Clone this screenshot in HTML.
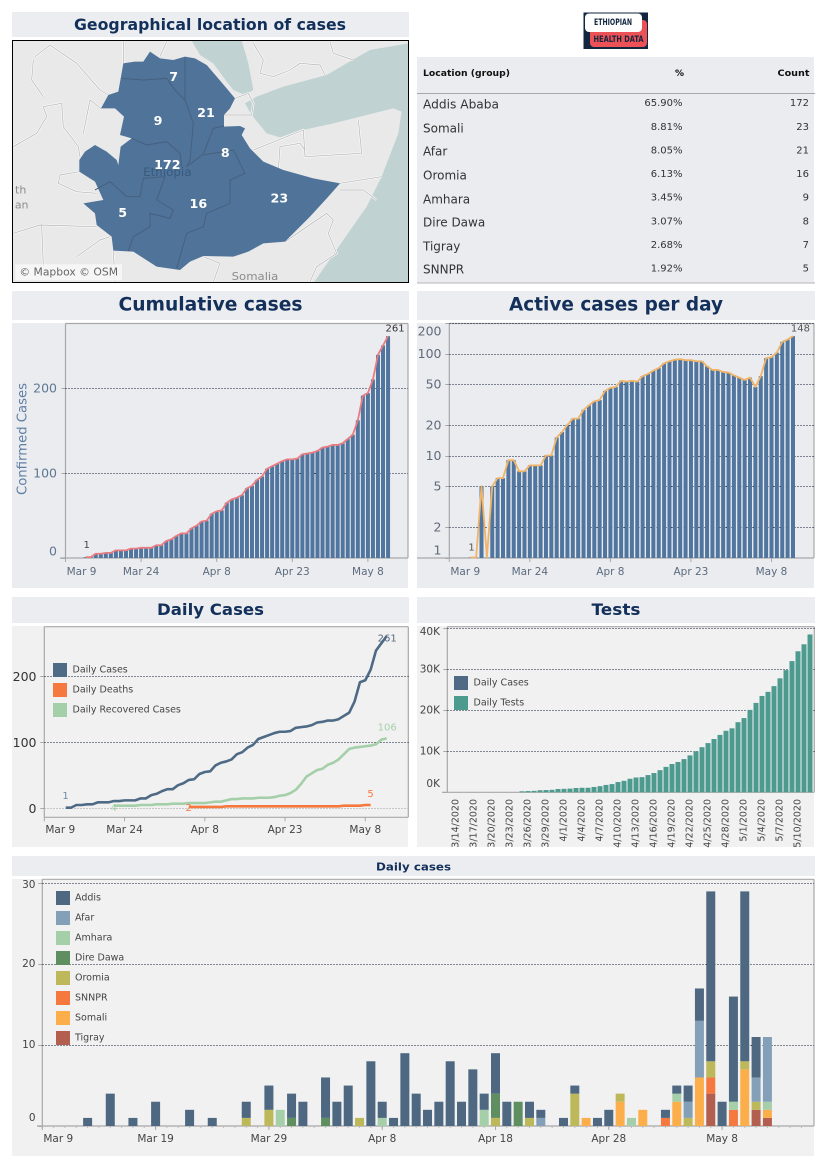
<!DOCTYPE html>
<html lang="en">
<head>
<meta charset="utf-8">
<title>Ethiopian Health Data dashboard</title>
<style>
html,body{margin:0;padding:0;background:#fff;width:827px;height:1169px;overflow:hidden}
svg{display:block}
text{font-family:"DejaVu Sans","Liberation Sans",sans-serif}
.title{font-weight:700;fill:#12305a;text-anchor:middle;dominant-baseline:central}
.cell{dominant-baseline:central;fill:#333}
.map-num{font-weight:700;fill:#fff;font-size:38px;text-anchor:middle;dominant-baseline:central}
.dot{fill:none;stroke:#0f1a33;stroke-width:1;stroke-dasharray:1 2;shape-rendering:crispEdges}
.dot-light{fill:none;stroke:#9a9a9a;stroke-width:1;stroke-dasharray:1 2;shape-rendering:crispEdges}
</style>
</head>
<body>
<svg id="page" xmlns="http://www.w3.org/2000/svg" width="827" height="1169" viewBox="0 0 827 1169">
  <defs><clipPath id="mapClip"><rect x="12.5" y="40.5" width="396" height="242"/></clipPath></defs>

  <rect x="12" y="12" width="397" height="25" fill="#ecedf0"/>
  <text class="title" x="210" y="24.5" font-size="16" textLength="272" lengthAdjust="spacingAndGlyphs">Geographical location of cases</text>

  <g clip-path="url(#mapClip)">
    <rect x="12" y="40" width="398" height="244" fill="#e9e9e9"/>
    <g transform="scale(0.33333)">
      <polygon fill="#c0d2d2" points="575,122 725,122 745,190 760,270 735,285 700,270 680,245 640,190 600,165"/>
      <polygon fill="#c0d2d2" points="770,290 850,260 980,225 1040,190 1110,150 1225,130 1225,850 940,850 1030,720 1100,620 1145,530 1195,400 1205,335 1180,325 1100,345 1000,370 900,392 840,412 800,400 755,345 735,310"/>
      <g fill="none" stroke-linejoin="round">
        <path stroke="#f6f6f6" stroke-width="7" d="M370 122V190M230 190L300 270 325 285M105 170L150 135 230 190M40 440L110 400 140 350 130 320 185 310 190 380 235 440 240 470M250 400L270 300 303 325M40 700L120 675 290 680M125 675L130 800M340 755L345 845M610 770L660 790 640 845M1020 550L1145 530M760 450L910 390 915 470 1085 460 1075 360M840 440L900 430 915 450M835 510L840 440M1020 570L1090 570 1130 600M855 725L980 640 1000 660 985 700 1010 760 950 800 930 845M705 295L745 280 760 310 755 345 725 345 672 345M760 130L790 180 780 220 820 230 870 210 900 190 960 195 975 225M990 125L1000 160 1060 180M238 515L180 525 175 550 230 575 290 580M230 770L300 720 330 710M100 180L95 240 130 290M480 170L500 125"/>
        <path stroke="#b4b4b4" stroke-width="2" d="M370 122V190M230 190L300 270 325 285M105 170L150 135 230 190M40 440L110 400 140 350 130 320 185 310 190 380 235 440 240 470M250 400L270 300 303 325M40 700L120 675 290 680M125 675L130 800M340 755L345 845M610 770L660 790 640 845M1020 550L1145 530M760 450L910 390 915 470 1085 460 1075 360M840 440L900 430 915 450M835 510L840 440M1020 570L1090 570 1130 600M855 725L980 640 1000 660 985 700 1010 760 950 800 930 845M705 295L745 280 760 310 755 345 725 345 672 345M760 130L790 180 780 220 820 230 870 210 900 190 960 195 975 225M990 125L1000 160 1060 180M238 515L180 525 175 550 230 575 290 580M230 770L300 720 330 710M100 180L95 240 130 290M480 170L500 125"/>
      </g>
      <polygon fill="#4f7399" points="370,190 405,185 430,185 450,155 480,175 520,180 555,170 585,175 620,195 650,230 680,265 705,295 690,325 672,345 672,380 720,378 735,385 725,405 750,445 790,485 850,510 940,535 1020,550 985,590 930,650 855,725 790,730 745,755 700,770 610,768 570,785 540,810 470,800 400,755 340,752 335,710 290,675 285,640 250,610 310,600 285,545 238,515 238,480 255,455 285,435 320,455 350,480 355,495 362,440 395,415 360,405 372,350 345,325 303,325 325,285 355,275"/>
      <path fill="none" stroke="#47607e" stroke-width="3" stroke-linejoin="round" d="M365 235L430 240 500 235 525 270 555 300M555 175V300L580 370 570 480 560 500M560 500L610 462 640 385 672 378M610 465L700 450 735 520 690 540 690 610 620 640 610 680 560 700 530 805M395 415L440 435 500 425 540 460 545 500M285 570L330 545 380 590 420 590 430 535 495 530 470 600 520 630 510 655 450 640 450 680 400 710 385 752"/>
      <text x="502" y="516" font-size="35" fill="#385a7d" text-anchor="middle" dominant-baseline="central" textLength="145" lengthAdjust="spacingAndGlyphs">Ethiopia</text>
      <text x="765" y="830" font-size="33" fill="#8c8c8c" text-anchor="middle" dominant-baseline="central" textLength="140" lengthAdjust="spacingAndGlyphs">Somalia</text>
      <text x="62" y="570" font-size="33" fill="#8c8c8c" text-anchor="middle" dominant-baseline="central">th</text>
      <text x="65" y="615" font-size="33" fill="#8c8c8c" text-anchor="middle" dominant-baseline="central">an</text>
      <text class="map-num" x="521" y="230">7</text>
      <text class="map-num" x="618" y="338">21</text>
      <text class="map-num" x="474" y="362">9</text>
      <text class="map-num" x="676" y="458">8</text>
      <text class="map-num" x="502" y="494">172</text>
      <text class="map-num" x="595" y="610">16</text>
      <text class="map-num" x="838" y="594">23</text>
      <text class="map-num" x="368" y="637">5</text>
      <rect x="46" y="793" width="320" height="48" fill="#fff" opacity="0.6"/>
      <text x="58" y="816" font-size="32" fill="#666" dominant-baseline="central" textLength="296" lengthAdjust="spacingAndGlyphs">© Mapbox © OSM</text>
    </g>
  </g>
  <rect x="12.5" y="40.5" width="396" height="242" fill="none" stroke="#000" stroke-width="1"/>

  <g>
    <rect x="583.5" y="12.5" width="64.5" height="36.5" fill="#12263f"/>
    <rect x="590" y="20" width="57" height="27" rx="4" fill="#ec5157"/>
    <rect x="585" y="13.5" width="57" height="18.5" rx="4" fill="#fff"/>
    <text x="613" y="23" font-size="9" font-weight="700" fill="#12263f" text-anchor="middle" dominant-baseline="central" textLength="38" lengthAdjust="spacingAndGlyphs">ETHIOPIAN</text>
    <text x="618.5" y="40" font-size="9" font-weight="700" fill="#12263f" text-anchor="middle" dominant-baseline="central" textLength="50" lengthAdjust="spacingAndGlyphs">HEALTH DATA</text>
  </g>

  <g>
    <rect x="417" y="57" width="397" height="226" fill="#ebecf0"/>
    <line x1="417" x2="815" y1="93.5" y2="93.5" stroke="#a8a8a8"/>
    <line x1="417" x2="815" y1="283" y2="283" stroke="#b5b5b5"/>
    <text class="cell" style="fill:#111" x="423" y="74" font-size="9" font-weight="700" textLength="87" lengthAdjust="spacingAndGlyphs">Location (group)</text>
    <text class="cell" style="fill:#111" x="684" y="74" font-size="9" font-weight="700" text-anchor="end">%</text>
    <text class="cell" style="fill:#111" x="809.5" y="74" font-size="9" font-weight="700" text-anchor="end" textLength="32" lengthAdjust="spacingAndGlyphs">Count</text>

    <text class="cell" x="423" y="104.5" font-size="12" textLength="76" lengthAdjust="spacingAndGlyphs">Addis Ababa</text>
    <text class="cell" x="682.5" y="103.5" font-size="10" text-anchor="end">65.90%</text>
    <text class="cell" x="809" y="103.5" font-size="10" text-anchor="end">172</text>

    <text class="cell" x="423" y="128.5" font-size="12">Somali</text>
    <text class="cell" x="682.5" y="127.5" font-size="10" text-anchor="end">8.81%</text>
    <text class="cell" x="809" y="127.5" font-size="10" text-anchor="end">23</text>

    <text class="cell" x="423" y="151.5" font-size="12">Afar</text>
    <text class="cell" x="682.5" y="151" font-size="10" text-anchor="end">8.05%</text>
    <text class="cell" x="809" y="151" font-size="10" text-anchor="end">21</text>

    <text class="cell" x="423" y="175.5" font-size="12">Oromia</text>
    <text class="cell" x="682.5" y="174.5" font-size="10" text-anchor="end">6.13%</text>
    <text class="cell" x="809" y="174.5" font-size="10" text-anchor="end">16</text>

    <text class="cell" x="423" y="199.5" font-size="12">Amhara</text>
    <text class="cell" x="682.5" y="198" font-size="10" text-anchor="end">3.45%</text>
    <text class="cell" x="809" y="198" font-size="10" text-anchor="end">9</text>

    <text class="cell" x="423" y="222.5" font-size="12">Dire Dawa</text>
    <text class="cell" x="682.5" y="222" font-size="10" text-anchor="end">3.07%</text>
    <text class="cell" x="809" y="222" font-size="10" text-anchor="end">8</text>

    <text class="cell" x="423" y="246.5" font-size="12">Tigray</text>
    <text class="cell" x="682.5" y="245.5" font-size="10" text-anchor="end">2.68%</text>
    <text class="cell" x="809" y="245.5" font-size="10" text-anchor="end">7</text>

    <text class="cell" x="423" y="269.5" font-size="12">SNNPR</text>
    <text class="cell" x="682.5" y="269" font-size="10" text-anchor="end">1.92%</text>
    <text class="cell" x="809" y="269" font-size="10" text-anchor="end">5</text>
  </g>

  <rect x="12" y="291" width="397" height="29" fill="#ecedf0"/>
  <text class="title" x="210.5" y="305" font-size="18.5" textLength="184" lengthAdjust="spacingAndGlyphs">Cumulative cases</text>
  <rect x="12" y="323" width="396" height="265" fill="#ebecf0"/>
  <g id="cumChart"></g>

  <rect x="417" y="291" width="398" height="29" fill="#ecedf0"/>
  <text class="title" x="616" y="305" font-size="18.5" textLength="214" lengthAdjust="spacingAndGlyphs">Active cases per day</text>
  <rect x="417" y="323" width="397" height="265" fill="#ebecf0"/>
  <g id="activeChart"></g>

  <rect x="12" y="597" width="397" height="26" fill="#ecedf0"/>
  <text class="title" x="210.5" y="609.5" font-size="16" textLength="107" lengthAdjust="spacingAndGlyphs">Daily Cases</text>
  <rect x="12" y="626" width="396" height="221" fill="#f1f1f2"/>
  <g id="dailyChart"></g>

  <rect x="417" y="597" width="398" height="26" fill="#ecedf0"/>
  <text class="title" x="616" y="609.5" font-size="16" textLength="49" lengthAdjust="spacingAndGlyphs">Tests</text>
  <rect x="417" y="626" width="397" height="221" fill="#f1f1f2"/>
  <g id="testsChart"></g>

  <rect x="12" y="856" width="803" height="20" fill="#ecedf0"/>
  <text class="title" x="413.5" y="867" font-size="11" textLength="75" lengthAdjust="spacingAndGlyphs">Daily cases</text>
  <rect x="12" y="879" width="802" height="277" fill="#f1f1f2"/>
  <g id="regionChart"></g>
</svg>

<script>
/* ---------- shared categories ---------- */
const dayLabels = [
  'Mar 13','Mar 14','Mar 15','Mar 16','Mar 17','Mar 18','Mar 19','Mar 20','Mar 21','Mar 22',
  'Mar 23','Mar 24','Mar 25','Mar 26','Mar 27','Mar 28','Mar 29','Mar 30','Mar 31','Apr 1',
  'Apr 2','Apr 3','Apr 4','Apr 5','Apr 6','Apr 7','Apr 8','Apr 9','Apr 10','Apr 11',
  'Apr 12','Apr 13','Apr 14','Apr 15','Apr 16','Apr 17','Apr 18','Apr 19','Apr 20','Apr 21',
  'Apr 22','Apr 23','Apr 24','Apr 25','Apr 26','Apr 27','Apr 28','Apr 29','Apr 30','May 1',
  'May 2','May 3','May 4','May 5','May 6','May 7','May 8','May 9','May 10','May 11',
  'May 12'];
const xTickLabels15 = ['Mar 9','Mar 24','Apr 8','Apr 23','May 8'];
const xTickLabels10 = ['Mar 9','Mar 19','Mar 29','Apr 8','Apr 18','Apr 28','May 8'];

/* ---------- cumulative ---------- */
const cumulativeCases = [
  1,1,5,5,6,6,9,9,9,11,
  11,12,12,12,15,15,20,22,26,29,
  29,35,38,43,44,52,55,56,65,69,
  71,74,82,85,92,96,105,108,111,114,
  116,116,117,122,123,124,126,130,131,133,
  133,135,140,145,162,191,194,210,239,250,
  261];
const cumulativeTicks = [0,100,200];

/* ---------- active (log axis) ---------- */
const activeCases = [
  1,1,5,1,5,6,6,9,9,7,
  7,8,8,8,10,10,15,17,20,23,
  23,28,31,34,35,43,46,47,54,53,
  54,53,60,63,68,72,80,84,87,88,
  86,86,84,84,75,69,69,66,65,61,
  58,55,58,47,60,90,92,102,130,137,
  148];
const activeTicks = [1,2,5,10,20,50,100,200];

/* ---------- daily lines ---------- */
const recoveredCases = [
  null,null,null,null,null,null,null,null,null,4,
  4,4,4,4,5,5,5,6,6,6,
  7,7,7,8,8,8,8,9,10,10,
  12,14,14,15,15,15,16,16,16,17,
  19,20,23,28,37,48,53,58,60,66,
  69,74,82,90,92,93,94,95,97,104,
  106];
const deathCases = [
  null,null,null,null,null,null,null,null,null,null,
  null,null,null,null,null,null,null,null,null,null,
  null,null,null,2,2,2,2,2,2,2,
  3,3,3,3,3,3,3,3,3,3,
  3,3,3,3,3,3,3,3,3,3,
  3,3,4,4,4,4,5,5,null,null,
  null];
const dailyTicks = [0,100,200];
const dailyLegend = ['Daily Cases','Daily Deaths','Daily Recovered Cases'];

/* ---------- tests ---------- */
const testDates = [
  '3/14/2020','3/15/2020','3/16/2020','3/17/2020','3/18/2020','3/19/2020','3/20/2020','3/21/2020','3/22/2020','3/23/2020',
  '3/24/2020','3/25/2020','3/26/2020','3/27/2020','3/28/2020','3/29/2020','3/30/2020','3/31/2020','4/1/2020','4/2/2020',
  '4/3/2020','4/4/2020','4/5/2020','4/6/2020','4/7/2020','4/8/2020','4/9/2020','4/10/2020','4/11/2020','4/12/2020',
  '4/13/2020','4/14/2020','4/15/2020','4/16/2020','4/17/2020','4/18/2020','4/19/2020','4/20/2020','4/21/2020','4/22/2020',
  '4/23/2020','4/24/2020','4/25/2020','4/26/2020','4/27/2020','4/28/2020','4/29/2020','4/30/2020','5/1/2020','5/2/2020',
  '5/3/2020','5/4/2020','5/5/2020','5/6/2020','5/7/2020','5/8/2020','5/9/2020','5/10/2020','5/11/2020','5/12/2020'];
const testCounts = [
  0,0,0,0,0,0,0,0,0,0,
  0,250,300,350,500,550,600,800,850,900,
  1050,1100,1100,1300,1500,1800,2000,2500,2800,3300,
  3600,3700,4200,4700,5400,6200,6900,7400,8100,9000,
  10000,11000,12000,13000,14000,15000,15600,17100,18100,20100,
  21800,23500,24500,25900,27800,29800,32000,34400,36100,38500];
const testTicks = [0,10000,20000,30000,40000];
const testLegend = ['Daily Cases','Daily Tests'];

/* ---------- daily by region ---------- */
const addisCases = [
  1,0,4,0,1,0,3,0,0,2,
  0,1,0,0,2,0,3,0,3,3,
  0,5,3,5,0,8,2,1,9,4,
  2,3,8,3,7,2,5,3,0,2,
  1,0,1,1,0,1,2,0,0,0,
  0,1,1,2,4,21,3,13,21,5,
  0];
const afarCases = [
  0,0,0,0,0,0,0,0,0,0,
  0,0,0,0,0,0,0,0,0,0,
  0,0,0,0,0,0,0,0,0,0,
  0,0,0,0,0,0,0,0,0,0,
  1,0,0,0,0,0,0,0,0,0,
  0,0,0,2,7,0,0,0,0,3,
  8];
const amharaCases = [
  0,0,0,0,0,0,0,0,0,0,
  0,0,0,0,0,0,0,2,0,0,
  0,0,0,0,0,0,1,0,0,0,
  0,0,0,0,0,2,0,0,0,0,
  0,0,0,0,0,0,0,0,1,0,
  0,0,1,0,0,0,0,1,0,0,
  1];
const direDawaCases = [
  0,0,0,0,0,0,0,0,0,0,
  0,0,0,0,0,0,0,0,1,0,
  0,1,0,0,0,0,0,0,0,0,
  0,0,0,0,0,0,3,0,3,0,
  0,0,0,0,0,0,0,0,0,0,
  0,0,0,0,0,0,0,0,0,0,
  0];
const oromiaCases = [
  0,0,0,0,0,0,0,0,0,0,
  0,0,0,0,1,0,2,0,0,0,
  0,0,0,0,1,0,0,0,0,0,
  0,0,0,0,0,0,1,0,0,1,
  0,0,0,4,0,0,0,1,0,0,
  0,0,0,1,0,2,0,0,1,1,
  0];
const snnprCases = [
  0,0,0,0,0,0,0,0,0,0,
  0,0,0,0,0,0,0,0,0,0,
  0,0,0,0,0,0,0,0,0,0,
  0,0,0,0,0,0,0,0,0,0,
  0,0,0,0,0,0,0,0,0,0,
  0,1,0,0,0,2,0,2,0,0,
  0];
const somaliCases = [
  0,0,0,0,0,0,0,0,0,0,
  0,0,0,0,0,0,0,0,0,0,
  0,0,0,0,0,0,0,0,0,0,
  0,0,0,0,0,0,0,0,0,0,
  0,0,0,0,1,0,0,3,0,2,
  0,0,3,0,6,0,0,0,7,0,
  1];
const tigrayCases = [
  0,0,0,0,0,0,0,0,0,0,
  0,0,0,0,0,0,0,0,0,0,
  0,0,0,0,0,0,0,0,0,0,
  0,0,0,0,0,0,0,0,0,0,
  0,0,0,0,0,0,0,0,0,0,
  0,0,0,0,0,4,0,0,0,2,
  1];
const regionTicks = [0,10,20,30];
const regionLegend = ['Addis','Afar','Amhara','Dire Dawa','Oromia','SNNPR','Somali','Tigray'];

/* ---------- helpers ---------- */
const NS = 'http://www.w3.org/2000/svg';
const AXIS = '#a8a8a8';
function mk(tag, attrs, parent){
  const el = document.createElementNS(NS, tag);
  for (const k in attrs) el.setAttribute(k, attrs[k]);
  parent.appendChild(el);
  return el;
}
function txt(parent, x, y, str, size, fill, anchor){
  const el = mk('text', {x:x, y:y, 'font-size':size, fill:fill, 'text-anchor':anchor||'middle', 'dominant-baseline':'central'}, parent);
  el.textContent = str;
  return el;
}
function dayOffset(label){
  return Math.round((new Date(label + ' 2020 12:00') - new Date('Mar 9 2020 12:00')) / 864e5);
}
function linePath(values, xFn, yFn){
  let d = '';
  values.forEach(function(v, i){
    if (v === null) return;
    d += (d ? 'L' : 'M') + xFn(i).toFixed(2) + ' ' + yFn(v).toFixed(2);
  });
  return d;
}
function drawFrame(g, left, right, top, bottom, axisStart){
  const a = mk('line', {x1:left, x2:left, y1:top, y2:bottom, stroke:AXIS, 'stroke-width':1.2}, g);
  
  
  const b = mk('line', {x1:left, x2:right, y1:top, y2:top, stroke:AXIS, 'stroke-width':1.2}, g);
  
  
  const c = mk('line', {x1:right, x2:right, y1:top, y2:bottom, stroke:AXIS, 'stroke-width':1.2}, g);
  
  
  const e = mk('line', {x1:axisStart, x2:right, y1:bottom, y2:bottom, stroke:AXIS, 'stroke-width':1.2}, g);
  
  
}
function drawYTicks(g, ticks, yFn, cfg){
  ticks.forEach(function(v){
    const y = yFn(v);
    const gy = Math.round(y) + 0.5;
    if (v !== cfg.noGrid) {
      const gl = mk('line', {x1:cfg.left, x2:cfg.right, y1:gy, y2:gy, class:(v === cfg.lightGrid ? 'dot-light' : 'dot')}, g);
      
      
    }
    const tk = mk('line', {x1:cfg.left - 4, x2:cfg.left, y1:gy, y2:gy, stroke:AXIS}, g);
    
    
    const ly = Math.min(cfg.maxLabelY, Math.max(cfg.minLabelY, y));
    const t = txt(g, cfg.labelX, ly, cfg.fmt ? cfg.fmt(v) : String(v), cfg.size, cfg.color, 'end');
    
    
  });
}
function drawXTicks(g, labels, xFn, cfg){
  labels.forEach(function(lbl){
    const x = xFn(dayOffset(lbl));
    const tk = mk('line', {x1:x, x2:x, y1:cfg.bottom, y2:cfg.bottom + 4, stroke:AXIS}, g);
    
    
    const t = txt(g, Math.max(x, cfg.left + 16), cfg.labelY, lbl, cfg.size, cfg.color);
    
    
  });
}

/* ---------- Cumulative cases ---------- */
(function(){
  const g = document.getElementById('cumChart');
  const left = 65.5, right = 408, top = 323.5, bottom = 558;
  const x = function(d){ return left + d * 5.04; };
  const y = function(v){ return bottom - v * 0.85; };
  drawFrame(g, left, right, top, bottom, 60);
  drawYTicks(g, cumulativeTicks, y, {left:left, right:right, labelX:57, size:12.5, color:'#5f7891', minLabelY:330, maxLabelY:551, noGrid:0});
  cumulativeCases.forEach(function(v, i){
    const cx = x(dayOffset(dayLabels[i]));
    const b = mk('rect', {x:cx - 2, y:y(v), width:4, height:bottom - y(v), fill:'#50759e'}, g);
    
    
  });
  const l = mk('path', {d:linePath(cumulativeCases, function(i){ return x(dayOffset(dayLabels[i])); }, y), fill:'none', stroke:'#e97c80', 'stroke-width':1.8, 'stroke-linejoin':'round'}, g);
  
  
  drawXTicks(g, xTickLabels15, x, {bottom:bottom, left:left, labelY:572, size:10.5, color:'#5c6b7d'});
  const f = txt(g, x(dayOffset(dayLabels[0])) + 1, y(cumulativeCases[0]) - 11.5, String(cumulativeCases[0]), 10, '#444');
  
  
  const n = txt(g, x(dayOffset(dayLabels[60])) + 7, y(cumulativeCases[60]) - 7, String(cumulativeCases[60]), 10, '#333');
  
  
  const at = txt(g, 0, 0, 'Confirmed Cases', 13, '#5f7fa3');
  at.setAttribute('transform', 'translate(23,439) rotate(-90)');
  at.setAttribute('textLength', '112');
  at.setAttribute('lengthAdjust', 'spacingAndGlyphs');
  
  
})();

/* ---------- Active cases ---------- */
(function(){
  const g = document.getElementById('activeChart');
  const left = 449.3, right = 814, top = 323.5, bottom = 558;
  const x = function(d){ return left + d * 5.37; };
  const y = function(v){ return 557.5 - 102 * Math.log10(Math.max(v, 1)); };
  drawFrame(g, left, right, top, bottom, 417);
  drawYTicks(g, activeTicks, y, {left:left, right:right, labelX:441.5, size:12.5, color:'#5f6b7a', minLabelY:331, maxLabelY:550, noGrid:1});
  activeCases.forEach(function(v, i){
    const cx = x(dayOffset(dayLabels[i]));
    const b = mk('rect', {x:cx - 2, y:y(v), width:4, height:Math.max(0, bottom - y(v)), fill:'#50759e'}, g);
    
    
  });
  const l = mk('path', {d:linePath(activeCases, function(i){ return x(dayOffset(dayLabels[i])); }, y), fill:'none', stroke:'#f0b468', 'stroke-width':1.8, 'stroke-linejoin':'round'}, g);
  
  
  drawXTicks(g, xTickLabels15, x, {bottom:bottom, left:left, labelY:572, size:10.5, color:'#5c6b7d'});
  const f = txt(g, 471.5, 548, String(activeCases[0]), 10, '#555');
  
  
  const n = txt(g, x(dayOffset(dayLabels[60])) + 7.5, y(activeCases[60]) - 7, String(activeCases[60]), 10, '#555');
  
  
})();

/* ---------- Daily Cases lines ---------- */
(function(){
  const g = document.getElementById('dailyChart');
  const left = 44.3, right = 408.3, top = 626.7, bottom = 817.3;
  const x = function(d){ return left + d * 5.35; };
  const y = function(v){ return 808.3 - v * 0.66; };
  const xi = function(i){ return x(dayOffset(dayLabels[i])); };
  drawFrame(g, left, right, top, bottom, left);
  drawYTicks(g, dailyTicks, y, {left:left, right:right, labelX:36.5, size:12.5, color:'#333', minLabelY:630, maxLabelY:812, lightGrid:0});
  const rec = mk('path', {d:linePath(recoveredCases, xi, y), fill:'none', stroke:'#a4cfa8', 'stroke-width':2.6, 'stroke-linejoin':'round'}, g);
  
  
  const dea = mk('path', {d:linePath(deathCases, xi, y), fill:'none', stroke:'#f5793f', 'stroke-width':2.6, 'stroke-linejoin':'round'}, g);
  
  
  const cum = mk('path', {d:linePath(cumulativeCases, xi, y), fill:'none', stroke:'#4e6a85', 'stroke-width':2.6, 'stroke-linejoin':'round'}, g);
  
  
  drawXTicks(g, xTickLabels15, x, {bottom:bottom, left:left, labelY:830, size:10.5, color:'#444'});

  const a1 = txt(g, 65.5, 796.5, String(cumulativeCases[0]), 10, '#6e8aa6');
  
  
  const a2 = txt(g, xi(60) + 0.5, y(cumulativeCases[60]) + 3, String(cumulativeCases[60]), 10, '#56697d');
  
  
  const a3 = txt(g, xi(60) + 0.5, y(recoveredCases[60]) - 10.5, String(recoveredCases[60]), 10, '#a4cfa8');
  
  
  const a4 = txt(g, xi(9), 808.5, String(recoveredCases[9]), 10, '#a4cfa8');
  
  
  const a5 = txt(g, xi(23), 808.5, String(deathCases[23]), 10, '#f5793f');
  
  
  const a6 = txt(g, 370.5, 794.5, String(deathCases[57]), 10, '#f5793f');
  
  

  const cols = ['#4e6a85','#f5793f','#a4cfa8'];
  dailyLegend.forEach(function(name, i){
    const s = mk('rect', {x:53, y:663 + i * 20, width:14, height:14, fill:cols[i]}, g);
    
    
    const t = txt(g, 72.5, 670 + i * 20, name, 9.5, '#444', 'start');
    
    
  });
})();

/* ---------- Tests ---------- */
(function(){
  const g = document.getElementById('testsChart');
  const left = 447.3, right = 814.3, top = 626.7, bottom = 792.3;
  const x = function(i){ return 456 + i * 6.0; };
  const y = function(v){ return bottom - v * 0.0041; };
  drawFrame(g, left, right, top, bottom, 442);
  drawYTicks(g, testTicks, y, {left:left, right:right, labelX:440, size:10.5, color:'#444', minLabelY:632, maxLabelY:784,
    noGrid:0, fmt:function(v){ return (v / 1000) + 'K'; }});
  testCounts.forEach(function(v, i){
    const b = mk('rect', {x:x(i) - 2.5, y:y(v), width:5, height:bottom - y(v), fill:'#4d9a8f'}, g);
    
    
  });
  testDates.forEach(function(lbl, i){
    if (i % 3 !== 0) return;
    const t = txt(g, 0, 0, lbl, 9.5, '#444', 'end');
    t.setAttribute('transform', 'translate(' + x(i) + ',799) rotate(-90)');
    
    
  });
  const cols = ['#4e6a85','#4d9a8f'];
  testLegend.forEach(function(name, i){
    const s = mk('rect', {x:454, y:676 + i * 20, width:14, height:14, fill:cols[i]}, g);
    
    
    const t = txt(g, 473.5, 683 + i * 20, name, 9.5, '#444', 'start');
    
    
  });
})();

/* ---------- Daily cases by region ---------- */
(function(){
  const g = document.getElementById('regionChart');
  const left = 42.3, right = 814, top = 879.3, bottom = 1126;
  const x = function(d){ return left + d * 11.33; };
  const y = function(v){ return bottom - v * 8.09; };
  drawFrame(g, left, right, top, bottom, 37);
  for (let d = 0; d < 68; d++) {
    const m = mk('line', {x1:x(d), x2:x(d), y1:bottom, y2:bottom + 2, stroke:'#bbb'}, g);
    
    
  }
  drawYTicks(g, regionTicks, y, {left:left, right:right, labelX:35.5, size:10.5, color:'#444', minLabelY:885, maxLabelY:1118, noGrid:0});
  const stackOrder = [tigrayCases, snnprCases, somaliCases, oromiaCases, direDawaCases, amharaCases, afarCases, addisCases];
  const stackColors = ['#b25f50','#f5793f','#fbae4a','#bdb85a','#5f8f60','#a4cfa8','#84a0b8','#4e6882'];
  dayLabels.forEach(function(lbl, i){
    const cx = x(dayOffset(lbl));
    let base = 0;
    stackOrder.forEach(function(series, k){
      const v = series[i];
      if (!v) return;
      const b = mk('rect', {x:cx - 4.5, y:y(base + v), width:9, height:y(base) - y(base + v), fill:stackColors[k]}, g);
      
      
      base += v;
    });
  });
  drawXTicks(g, xTickLabels10, x, {bottom:bottom, left:left, labelY:1139, size:10.5, color:'#444'});
  const legendColors = ['#4e6882','#84a0b8','#a4cfa8','#5f8f60','#bdb85a','#f5793f','#fbae4a','#b25f50'];
  regionLegend.forEach(function(name, i){
    const s = mk('rect', {x:56, y:891 + i * 20, width:14, height:14, fill:legendColors[i]}, g);
    
    
    const t = txt(g, 75, 898 + i * 20, name, 9.5, '#444', 'start');
    
    
  });
})();
</script>
</body>
</html>
